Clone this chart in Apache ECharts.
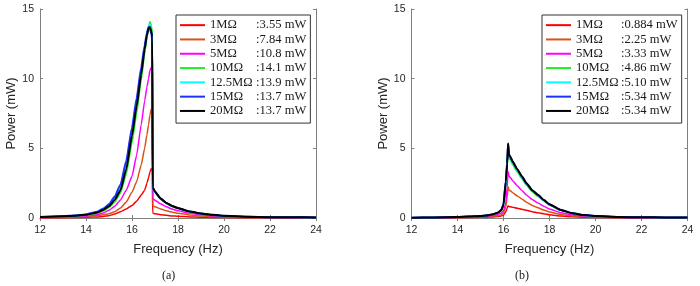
<!DOCTYPE html>
<html><head><meta charset="utf-8">
<script src="https://cdn.jsdelivr.net/npm/echarts@6/dist/echarts.min.js"></script>
<style>html,body{margin:0;padding:0;background:#fff}#c{width:700px;height:286px}</style>
</head><body><div id="c"></div>
<script>
var LABELS = ['1MΩ','3MΩ','5MΩ','10MΩ','12.5MΩ','15MΩ','20MΩ'];
var PEAK_A = [':3.55 mW',':7.84 mW',':10.8 mW',':14.1 mW',':13.9 mW',':13.7 mW',':13.7 mW'];
var PEAK_B = [':0.884 mW',':2.25 mW',':3.33 mW',':4.86 mW',':5.10 mW',':5.34 mW',':5.34 mW'];
var X_TICKS = [12,14,16,18,20,22,24];
var Y_TICKS = [0,5,10,15];

var FREQ_A = [12,13,13.5,14,14.5,14.75,15,15.25,15.5,15.75,16,16.2,16.4,16.55,16.65,16.72,16.78,16.84,16.88,16.9,17,17.25,17.5,17.75,18,18.5,19,19.5,20,21,22,23,24];
var A_1M   = [0.01,0.02,0.03,0.05,0.08,0.11,0.17,0.28,0.45,0.65,0.9,1.2,1.65,2.0,2.5,2.9,3.3,3.55,3.4,0.35,0.3,0.24,0.19,0.15,0.12,0.08,0.06,0.04,0.03,0.02,0.01,0.01,0.01];
var A_3M   = [0.03,0.05,0.07,0.1,0.17,0.23,0.3,0.45,0.72,1.15,1.85,2.6,3.8,5.0,6.0,6.7,7.4,7.84,7.7,0.88,0.8,0.65,0.52,0.42,0.34,0.22,0.15,0.1,0.07,0.04,0.03,0.02,0.02];
var A_5M   = [0.04,0.07,0.1,0.15,0.26,0.36,0.55,0.85,1.3,2.0,3.0,4.5,6.7,8.4,9.4,10.0,10.6,10.8,10.6,1.4,1.28,1.0,0.8,0.64,0.52,0.35,0.24,0.16,0.12,0.07,0.05,0.04,0.03];
var A_10M  = [0.06,0.1,0.14,0.2,0.35,0.5,0.75,1.15,1.8,3.15,5.4,7.5,9.9,11.8,13.0,13.7,14.1,13.8,13.3,2.1,1.82,1.34,1.04,0.83,0.68,0.45,0.31,0.22,0.15,0.09,0.06,0.05,0.04];
var A_12M5 = [0.08,0.13,0.17,0.25,0.43,0.62,0.93,1.42,2.2,3.9,6.4,8.4,10.5,12.3,13.3,13.8,13.9,13.5,13.1,2.15,1.85,1.36,1.05,0.84,0.69,0.46,0.31,0.22,0.15,0.09,0.06,0.05,0.04];
var A_15M  = [0.08,0.13,0.18,0.26,0.45,0.68,0.98,1.55,2.4,4.1,6.5,8.6,10.8,12.4,13.3,13.7,13.6,13.2,12.8,2.2,1.86,1.37,1.06,0.85,0.7,0.46,0.32,0.22,0.15,0.09,0.06,0.05,0.04];
var A_20M  = [0.07,0.12,0.16,0.23,0.4,0.58,0.85,1.3,2.0,3.5,5.9,8.0,10.3,12.1,13.1,13.6,13.7,13.4,13.0,2.2,1.9,1.4,1.08,0.87,0.71,0.47,0.32,0.23,0.16,0.09,0.06,0.05,0.04];

var FREQ_B = [12,13,14,14.5,15,15.25,15.5,15.75,15.9,16,16.1,16.16,16.2,16.24,16.3,16.4,16.6,16.8,17,17.25,17.5,17.75,18,18.5,19,19.5,20,21,22,23,24];
var B_1M   = [0.01,0.015,0.025,0.035,0.05,0.06,0.08,0.11,0.14,0.2,0.45,0.7,0.884,0.82,0.8,0.77,0.7,0.63,0.55,0.45,0.37,0.3,0.23,0.14,0.09,0.06,0.04,0.02,0.01,0.01,0.01];
var B_3M   = [0.012,0.02,0.035,0.05,0.07,0.09,0.12,0.17,0.24,0.35,0.8,1.5,2.25,2.0,1.95,1.82,1.58,1.36,1.13,0.9,0.73,0.57,0.43,0.26,0.15,0.1,0.06,0.03,0.02,0.02,0.01];
var B_5M   = [0.015,0.03,0.05,0.07,0.1,0.13,0.18,0.26,0.36,0.5,1.1,2.2,3.33,3.0,2.9,2.68,2.3,1.98,1.65,1.32,1.08,0.85,0.64,0.38,0.22,0.14,0.09,0.05,0.03,0.02,0.02];
var B_10M  = [0.02,0.04,0.07,0.1,0.14,0.18,0.24,0.36,0.52,0.88,2.3,3.6,4.86,4.3,4.15,3.82,3.3,2.82,2.35,1.88,1.55,1.22,0.92,0.54,0.32,0.2,0.13,0.07,0.05,0.04,0.03];
var B_12M5 = [0.02,0.04,0.07,0.1,0.14,0.18,0.25,0.37,0.54,0.93,2.5,3.8,5.1,4.45,4.28,3.94,3.4,2.91,2.43,1.94,1.61,1.26,0.95,0.56,0.33,0.2,0.13,0.07,0.05,0.04,0.03];
var B_15M  = [0.02,0.04,0.07,0.1,0.14,0.18,0.25,0.38,0.56,0.98,2.7,4.0,5.34,4.5,4.36,4.02,3.47,2.97,2.48,1.98,1.64,1.29,0.97,0.57,0.34,0.21,0.14,0.07,0.05,0.04,0.03];
var B_20M  = [0.02,0.04,0.07,0.1,0.14,0.18,0.25,0.38,0.55,0.95,2.6,3.9,5.34,4.55,4.4,4.05,3.5,3.0,2.5,2.0,1.66,1.3,0.98,0.58,0.34,0.21,0.14,0.07,0.05,0.04,0.03];

var COLORS = ['#ff0000','#d95319','#ff00ff','#22ee22','#00ffff','#1a33ff','#000000'];
var WIDTHS = [1.5,1.5,1.5,1.6,1.6,2,2];

var SER_A = [A_1M,A_3M,A_5M,A_10M,A_12M5,A_15M,A_20M];
var SER_B = [B_1M,B_3M,B_5M,B_10M,B_12M5,B_15M,B_20M];

var chart = echarts.init(document.getElementById('c'), null, {renderer:'canvas'});
var AX = '#808080', TXT = '#262626';
var SANS = 'Liberation Sans, Arial, sans-serif';
var SERIF = 'Liberation Serif, Times New Roman, serif';

function xAxes(g){
  return [{
    gridIndex:g, type:'value', min:12, max:24, interval:2, position:'bottom',
    axisLine:{show:true,lineStyle:{color:AX,width:1}},
    axisTick:{show:true,inside:true,length:3,lineStyle:{color:AX}},
    axisLabel:{show:true,margin:7,fontSize:10.5,color:TXT,fontFamily:SANS},
    splitLine:{show:false},
    name:'Frequency (Hz)', nameLocation:'middle', nameGap:25,
    nameTextStyle:{fontSize:13,color:TXT,fontFamily:SANS}
  },{
    gridIndex:g, type:'value', min:12, max:24, interval:2, position:'top',
    axisLine:{show:true,lineStyle:{color:AX,width:1}},
    axisTick:{show:true,inside:true,length:3,lineStyle:{color:AX}},
    axisLabel:{show:false}, splitLine:{show:false}
  }];
}
function yAxes(g){
  return [{
    gridIndex:g, type:'value', min:0, max:15, interval:5, position:'left',
    axisLine:{show:true,lineStyle:{color:AX,width:1}},
    axisTick:{show:true,inside:true,length:3,lineStyle:{color:AX}},
    axisLabel:{show:true,margin:6,fontSize:10.5,color:TXT,fontFamily:SANS},
    splitLine:{show:false},
    name:'Power (mW)', nameLocation:'middle', nameGap:20,
    nameTextStyle:{fontSize:13,color:TXT,fontFamily:SANS}
  },{
    gridIndex:g, type:'value', min:0, max:15, interval:5, position:'right',
    axisLine:{show:true,lineStyle:{color:AX,width:1}},
    axisTick:{show:true,inside:true,length:3,lineStyle:{color:AX}},
    axisLabel:{show:false}, splitLine:{show:false}
  }];
}

var series = [];
function addSeries(prefix, freq, sets, xi, yi){
  sets.forEach(function(vals, i){
    series.push({
      name: prefix + i, type:'line', xAxisIndex:xi, yAxisIndex:yi,
      data: freq.map(function(f,k){return [f, vals[k]];}),
      showSymbol:false, symbol:'none', smooth:0.15, smoothMonotone:'x',
      lineStyle:{color:COLORS[i], width:WIDTHS[i]}, itemStyle:{color:COLORS[i]},
      z: 2 + i, animation:false
    });
  });
}
addSeries('a', FREQ_A, SER_A, 0, 0);
addSeries('b', FREQ_B, SER_B, 2, 2);

function legend(prefix, peaks, left, nameW){
  return {
    orient:'vertical', left:left, top:15,
    data: LABELS.map(function(l,i){return prefix + i;}),
    icon:'rect', itemWidth:25, itemHeight:2, itemGap:0,
    padding:[3,4,5,4], borderColor:'#333', borderWidth:1, backgroundColor:'#fff',
    selectedMode:false,
    formatter:function(n){ var i = +n.slice(1); return '{n|' + LABELS[i] + '}{v|' + peaks[i] + '}'; },
    textStyle:{ fontFamily:SERIF, fontSize:12.6, color:'#1a1a1a', lineHeight:14.3,
      rich:{ n:{width:nameW, fontFamily:SERIF, fontSize:12.6, color:'#1a1a1a', lineHeight:14.3},
             v:{fontFamily:SERIF, fontSize:12.6, color:'#1a1a1a', lineHeight:14.3} } }
  };
}

chart.setOption({
  animation:false,
  grid:[{left:40, top:9, width:276, height:209, containLabel:false},
        {left:411.5, top:9, width:276, height:209, containLabel:false}],
  xAxis: xAxes(0).concat(xAxes(1)),
  yAxis: yAxes(0).concat(yAxes(1)),
  legend:[legend('a', PEAK_A, 176, 46), legend('b', PEAK_B, 542, 45)],
  graphic:[
    {type:'text', left:162, top:270, style:{text:'(a)', font:'12px ' + SERIF, fill:'#1a1a1a'}},
    {type:'text', left:515, top:270, style:{text:'(b)', font:'12px ' + SERIF, fill:'#1a1a1a'}}
  ],
  series: series
});
</script></body></html>
